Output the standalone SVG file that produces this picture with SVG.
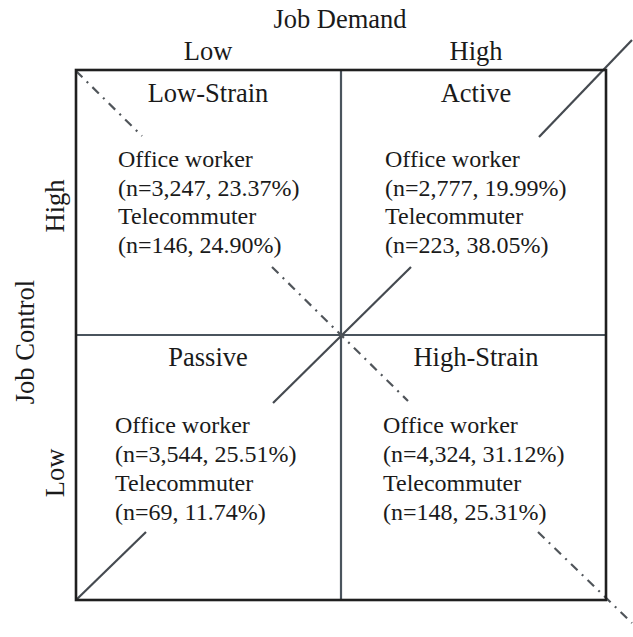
<svg xmlns="http://www.w3.org/2000/svg" width="633" height="637" viewBox="0 0 633 637">
<style>
  text { font-family: "Liberation Serif", "Times New Roman", serif; fill: #1a1a1a; }
  .hdr { font-size: 26.5px; text-anchor: middle; }
  .body { font-size: 24px; }
  .border { fill: none; stroke: #1f1f1f; stroke-width: 2.6; }
  .mid { stroke: #4a545d; stroke-width: 2.2; fill: none; }
  .solid { stroke: #454a50; stroke-width: 2.2; fill: none; }
  .dashdot { stroke: #50555a; stroke-width: 2.2; fill: none; stroke-dasharray: 9 6 2 6; }
</style>
<rect width="633" height="637" fill="#ffffff"/>

<g id="axes">
  <text class="hdr" x="340" y="28">Job Demand</text>
  <text class="hdr" x="208" y="60">Low</text>
  <text class="hdr" x="476" y="60">High</text>
  <text class="hdr" transform="translate(34,342) rotate(-90)">Job Control</text>
  <text class="hdr" transform="translate(64,206) rotate(-90)">High</text>
  <text class="hdr" transform="translate(64,473) rotate(-90)">Low</text>
</g>

<g id="connectors">
  <line class="mid" x1="341" y1="70" x2="341" y2="601"/>
  <line class="mid" x1="76" y1="335" x2="606" y2="335"/>
  <line class="solid" x1="76" y1="600" x2="146" y2="532"/>
  <line class="solid" x1="273" y1="403" x2="411" y2="267"/>
  <line class="solid" x1="539" y1="137" x2="632" y2="40"/>
  <line class="dashdot" x1="76" y1="71" x2="142" y2="136"/>
  <line class="dashdot" x1="272" y1="267" x2="408" y2="401"/>
  <line class="dashdot" x1="538" y1="532" x2="632" y2="623"/>
  <rect class="border" x="76" y="70" width="530" height="530"/>
</g>

<g id="low-strain">
  <text class="hdr" x="208" y="102">Low-Strain</text>
  <text class="body" x="118" y="167">Office worker</text>
  <text class="body" x="118" y="196">(n=3,247, 23.37%)</text>
  <text class="body" x="118" y="224">Telecommuter</text>
  <text class="body" x="118" y="253">(n=146, 24.90%)</text>
</g>

<g id="active">
  <text class="hdr" x="476" y="102">Active</text>
  <text class="body" x="385" y="167">Office worker</text>
  <text class="body" x="385" y="196">(n=2,777, 19.99%)</text>
  <text class="body" x="385" y="224">Telecommuter</text>
  <text class="body" x="385" y="253">(n=223, 38.05%)</text>
</g>

<g id="passive">
  <text class="hdr" x="208" y="366">Passive</text>
  <text class="body" x="115" y="433">Office worker</text>
  <text class="body" x="115" y="462">(n=3,544, 25.51%)</text>
  <text class="body" x="115" y="491">Telecommuter</text>
  <text class="body" x="115" y="520">(n=69, 11.74%)</text>
</g>

<g id="high-strain">
  <text class="hdr" x="476" y="366">High-Strain</text>
  <text class="body" x="383" y="433">Office worker</text>
  <text class="body" x="383" y="462">(n=4,324, 31.12%)</text>
  <text class="body" x="383" y="491">Telecommuter</text>
  <text class="body" x="383" y="520">(n=148, 25.31%)</text>
</g>
</svg>
